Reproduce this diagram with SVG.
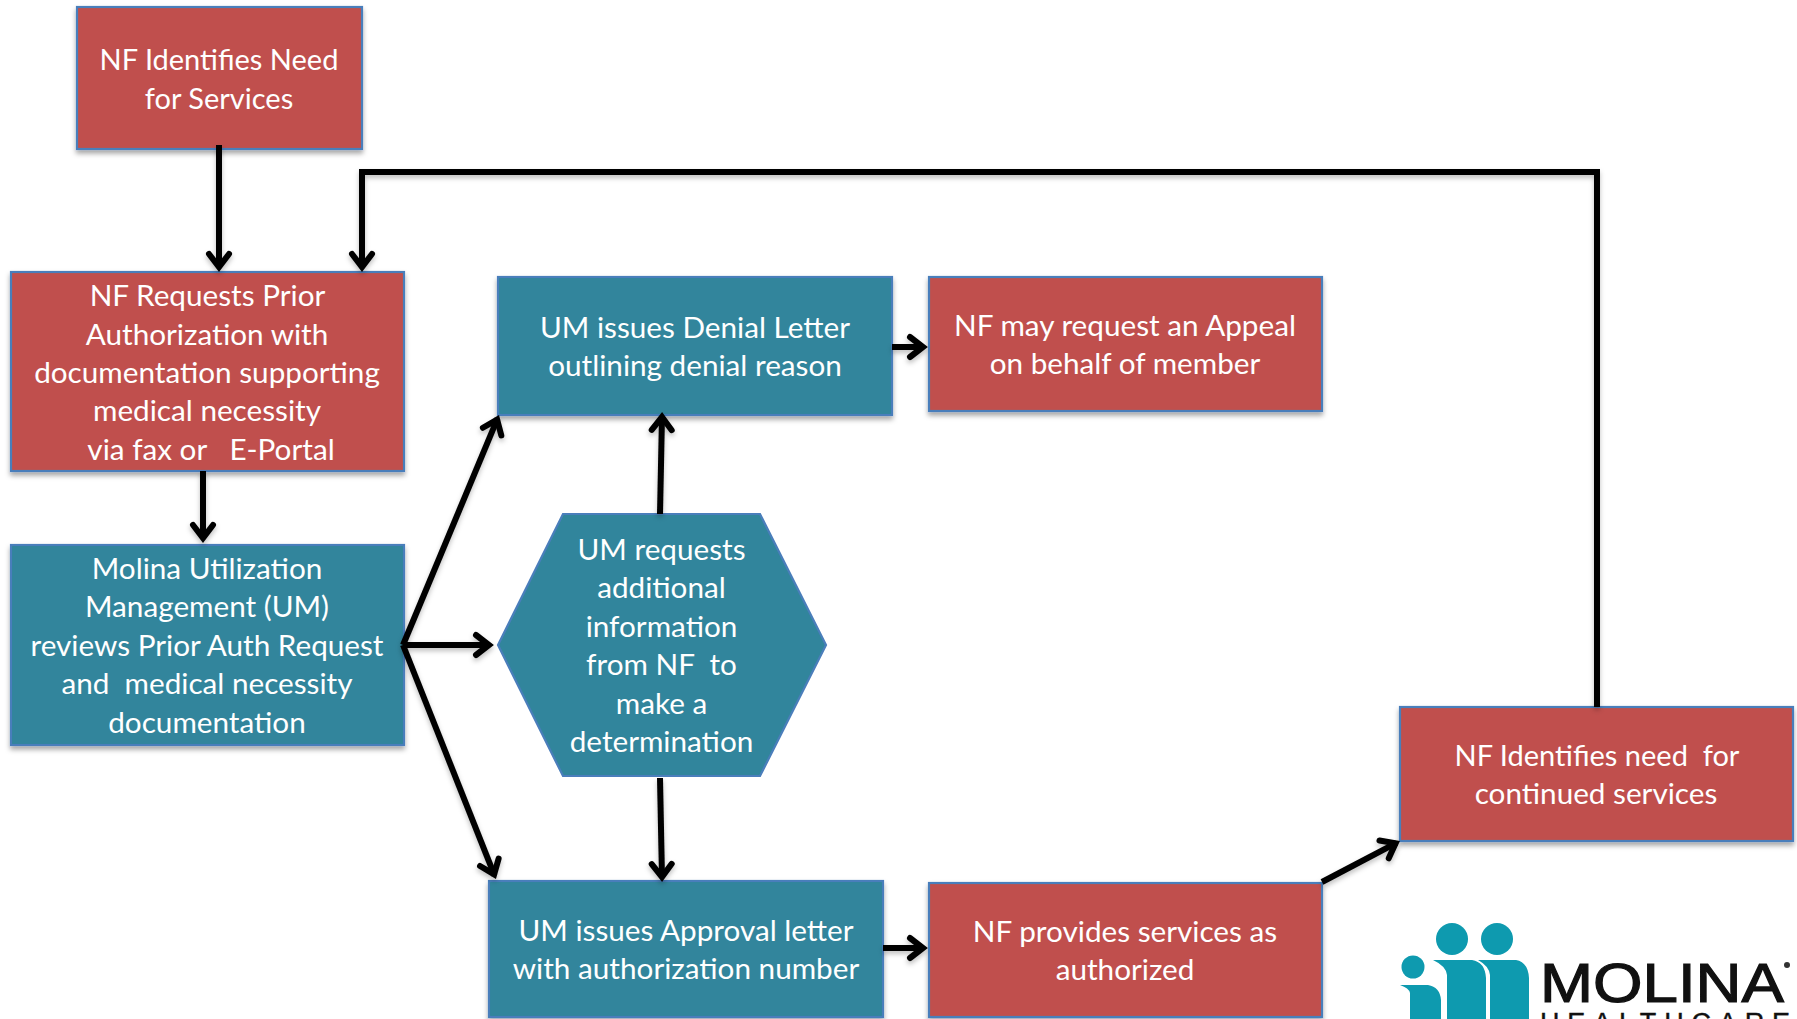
<svg xmlns="http://www.w3.org/2000/svg" width="1797" height="1019" viewBox="0 0 1797 1019">
<style>
.n{stroke:#4a7ebb;stroke-width:2.2}
.sh{filter:url(#s)}
.r{fill:#c0504d}
.b{fill:#31859c}
text{font-family:Lato,"Open Sans","Liberation Sans",sans-serif;font-size:29.7px;fill:#fff;text-anchor:middle}
text.k{font-size:29px}
.c{fill:none;stroke:#000;stroke-width:6}
.t{fill:#0e9aaf}
.lg{font-family:"Liberation Sans",sans-serif;fill:#111;text-anchor:start;stroke:#111}
</style>
<defs>
<filter id="s" x="-5%" y="-5%" width="110%" height="115%"><feDropShadow dx="0" dy="3.5" stdDeviation="2.5" flood-color="#000" flood-opacity="0.35"/></filter>
<filter id="ls" filterUnits="userSpaceOnUse" x="0" y="0" width="1797" height="1019"><feDropShadow dx="0" dy="3" stdDeviation="2.5" flood-color="#000" flood-opacity="0.25"/></filter>
<marker id="a" markerUnits="userSpaceOnUse" markerWidth="36" markerHeight="30" refX="24" refY="15" orient="auto"><path d="M10 5 L23 15 L10 25" fill="none" stroke="#000" stroke-width="6" stroke-linecap="round"/></marker>
</defs>
<rect width="1797" height="1019" fill="#fff"/>
<g id="node-need"><rect class="n r sh" x="77" y="7" width="285" height="142"/><text class="k" x="219" y="70">NF Identifies Need</text><text class="k" x="219" y="109">for Services</text></g>
<g id="node-request"><rect class="n r sh" x="11" y="272" width="393" height="199"/><text x="207.500" y="306">NF Requests Prior</text><text x="207" y="345">Authorization with</text><text x="207" y="383">documentation supporting</text><text x="207" y="421">medical necessity</text><text x="211" y="460" xml:space="preserve">via fax or   E-Portal</text></g>
<g id="node-review"><rect class="n b sh" x="11" y="545" width="393" height="200"/><text x="207" y="579">Molina Utilization</text><text x="207" y="617">Management (UM)</text><text x="207" y="656">reviews Prior Auth Request</text><text x="207" y="694" xml:space="preserve">and  medical necessity</text><text x="207" y="733">documentation</text></g>
<g id="node-denial"><rect class="n b sh" x="498" y="277" width="394" height="138"/><text x="695" y="338">UM issues Denial Letter</text><text x="695" y="376">outlining denial reason</text></g>
<g id="node-appeal"><rect class="n r sh" x="929" y="277" width="393" height="134"/><text x="1125" y="336">NF may request an Appeal</text><text x="1125" y="374">on behalf of member</text></g>
<g id="node-info"><polygon class="n b" points="563,514 760,514 826,645 760,776 563,776 498,645"/><text x="661.500" y="560">UM requests</text><text x="661.500" y="598">additional</text><text x="661.500" y="637">information</text><text x="661.500" y="675" xml:space="preserve">from NF  to</text><text x="661.500" y="714">make a</text><text x="661.500" y="752">determination</text></g>
<g id="node-approval"><rect class="n b sh" x="489" y="881" width="394" height="136"/><text x="686" y="941">UM issues Approval letter</text><text x="686" y="979">with authorization number</text></g>
<g id="node-provides"><rect class="n r sh" x="929" y="883" width="393" height="134"/><text x="1125" y="942">NF provides services as</text><text x="1125" y="980">authorized</text></g>
<g id="node-continued"><rect class="n r sh" x="1400" y="707" width="393" height="134"/><text class="k" x="1597" y="766" xml:space="preserve">NF Identifies need  for</text><text x="1596" y="804">continued services</text></g>
<g id="connectors" filter="url(#ls)">
<path class="c" marker-end="url(#a)" d="M219 145V268"/>
<path class="c" marker-end="url(#a)" d="M1597 707V172H362V268"/>
<path class="c" marker-end="url(#a)" d="M203 471V539"/>
<path class="c" marker-end="url(#a)" d="M403 645L497.500 418.700"/>
<path class="c" marker-end="url(#a)" d="M403 645H490"/>
<path class="c" marker-end="url(#a)" d="M403 645L494.500 875.300"/>
<path class="c" marker-end="url(#a)" d="M660 514L662 416"/>
<path class="c" marker-end="url(#a)" d="M660 778L662 878"/>
<path class="c" marker-end="url(#a)" d="M892 347H924"/>
<path class="c" marker-end="url(#a)" d="M883 948H924"/>
<path class="c" marker-end="url(#a)" d="M1322 882L1396.500 842.900"/>
</g>
<g id="logo">
<circle class="t" cx="1452" cy="939" r="16"/><circle class="t" cx="1497" cy="939" r="16"/><circle class="t" cx="1413" cy="967" r="11.500"/>
<path class="t" d="M1400 985H1428Q1440 987 1441 1000V1019H1410V993Q1409 988 1400 985Z"/>
<path class="t" d="M1433 960H1472Q1485 962 1486 978V1019H1447V975Q1446 966 1433 960Z"/>
<path class="t" d="M1478 960H1516Q1528 962 1529 978V1019H1490V975Q1489 966 1478 960Z"/>
<text class="lg" x="1540" y="1002" style="font-size:55px" stroke-width="1.200" textLength="244" lengthAdjust="spacingAndGlyphs">MOLINA</text>
<text class="lg" x="1540" y="1032" style="font-size:27px" stroke-width="0.400" textLength="250">HEALTHCARE</text>
<circle cx="1787" cy="965" r="3" fill="#333"/>
</g>
</svg>
